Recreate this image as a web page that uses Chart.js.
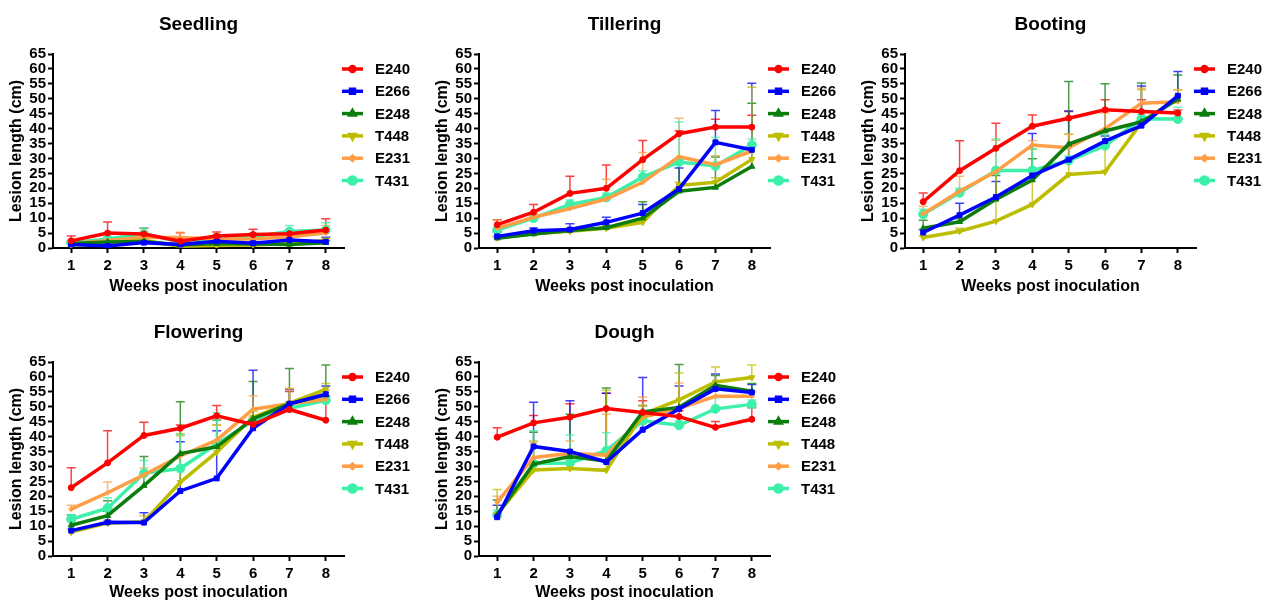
<!DOCTYPE html>
<html>
<head>
<meta charset="utf-8">
<script src="https://cdn.jsdelivr.net/npm/chart.js@4.4.1/dist/chart.umd.min.js"></script>
<style>
  body { margin: 0; background: #fff; width: 1266px; height: 602px; overflow: hidden; position: relative; }
  canvas { position: absolute; }
</style>
</head>
<body>
<canvas id="seedling" width="414" height="300" style="left:0px;top:0px"></canvas>
<canvas id="tillering" width="414" height="300" style="left:426px;top:0px"></canvas>
<canvas id="booting" width="414" height="300" style="left:852px;top:0px"></canvas>
<canvas id="flowering" width="414" height="294" style="left:0px;top:308px"></canvas>
<canvas id="dough" width="414" height="294" style="left:426px;top:308px"></canvas>
<script>
// weeks on x, strains in legend order
const weeks = ['1', '2', '3', '4', '5', '6', '7', '8'];
const strains = ['E240', 'E266', 'E248', 'T448', 'E231', 'T431'];
const yTicks = [0, 5, 10, 15, 20, 25, 30, 35, 40, 45, 50, 55, 60, 65];

// rows follow strains order; err = upper error bar length
const seedlingMean = [
    [2.4, 5.0, 4.7, 2.3, 4.0, 4.5, 4.8, 6.0],
    [1.2, 0.7, 1.8, 1.2, 2.3, 1.6, 2.7, 2.1],
    [1.5, 2.0, 2.2, 1.0, 1.5, 1.3, 1.2, 1.8],
    [1.0, 1.5, 2.5, 0.6, 0.8, 1.0, 1.5, 2.5],
    [1.5, 2.5, 3.5, 3.5, 3.0, 3.0, 3.8, 5.0],
    [1.8, 3.0, 4.8, 2.0, 3.5, 3.8, 5.5, 6.0]
];
const seedlingErr = [
    [1.6, 3.7, 2.0, 2.8, 1.4, 1.8, 1.2, 3.8],
    [0.5, 0.6, 0.6, 0.5, 0.6, 0.6, 0.8, 1.5],
    [0.4, 0.6, 0.5, 0.4, 0.4, 0.3, 0.4, 0.6],
    [0.4, 0.5, 0.6, 0.3, 0.4, 0.4, 0.5, 0.8],
    [0.7, 0.9, 1.0, 1.8, 0.8, 0.8, 1.0, 2.5],
    [0.8, 0.8, 2.0, 0.8, 1.0, 1.2, 2.0, 2.5]
];
const tilleringMean = [
    [7.8, 12.0, 18.3, 20.0, 29.6, 38.3, 40.5, 40.5],
    [3.9, 5.8, 6.2, 8.6, 11.7, 19.8, 35.4, 32.9],
    [3.3, 4.7, 5.9, 6.8, 10.0, 19.0, 20.3, 27.3],
    [3.4, 4.8, 5.6, 6.6, 8.6, 21.0, 22.0, 29.7],
    [6.6, 10.3, 13.2, 16.4, 22.0, 30.6, 27.9, 32.5],
    [6.0, 10.0, 14.6, 16.9, 23.8, 28.8, 27.5, 34.5]
];
const tilleringErr = [
    [1.7, 2.6, 5.7, 7.8, 6.4, 1.0, 2.6, 4.0],
    [1.5, 0.9, 1.9, 1.7, 2.9, 7.0, 10.7, 22.3],
    [0.5, 0.6, 0.7, 0.8, 5.5, 10.8, 10.2, 21.2],
    [0.5, 0.6, 0.6, 0.7, 1.0, 1.0, 1.5, 24.2],
    [2.8, 1.0, 1.5, 6.6, 10.0, 12.9, 3.0, 2.5],
    [1.0, 1.0, 1.5, 1.5, 2.0, 13.4, 9.5, 2.0]
];
const bootingMean = [
    [15.5, 25.9, 33.4, 40.8, 43.5, 46.3, 45.7, 45.2],
    [5.2, 11.0, 17.1, 24.3, 29.6, 35.8, 41.0, 51.0],
    [6.6, 8.8, 16.3, 22.8, 34.8, 39.2, 42.3, 49.8],
    [3.5, 5.6, 9.0, 14.6, 24.6, 25.5, 42.0, 50.5],
    [11.5, 19.0, 25.6, 34.5, 33.6, 40.0, 48.5, 49.0],
    [11.3, 18.5, 26.0, 26.0, 29.3, 34.3, 43.3, 43.2]
];
const bootingErr = [
    [2.9, 10.0, 8.4, 3.8, 2.2, 3.4, 4.0, 1.0],
    [1.0, 4.0, 5.2, 14.1, 16.3, 1.7, 13.3, 8.1],
    [2.7, 1.0, 8.0, 7.1, 21.0, 15.8, 13.0, 8.2],
    [0.5, 1.0, 17.0, 18.5, 13.5, 14.0, 11.0, 2.5],
    [2.5, 5.0, 10.5, 1.5, 4.5, 5.2, 5.0, 4.0],
    [1.7, 1.5, 10.5, 7.3, 1.5, 3.7, 1.5, 4.0]
];
const floweringMean = [
    [22.9, 31.2, 40.4, 42.8, 47.0, 44.1, 49.1, 45.5],
    [8.5, 11.3, 11.2, 21.8, 26.0, 42.8, 51.0, 54.2],
    [10.3, 13.5, 23.6, 34.3, 36.6, 46.0, 51.0, 54.0],
    [8.0, 11.0, 11.5, 24.7, 34.8, 46.5, 51.2, 55.8],
    [15.7, 21.2, 27.2, 33.5, 38.8, 49.2, 51.0, 52.5],
    [12.3, 16.0, 27.7, 29.3, 37.5, 45.3, 49.5, 52.2]
];
const floweringErr = [
    [6.7, 10.8, 4.4, 1.1, 3.4, 2.0, 6.0, 8.0],
    [4.0, 3.7, 3.3, 16.5, 16.0, 19.4, 4.8, 2.8],
    [3.5, 5.0, 9.7, 17.4, 9.0, 12.5, 11.8, 10.0],
    [1.0, 1.0, 2.0, 16.3, 9.2, 2.0, 5.0, 2.0],
    [1.3, 3.6, 2.3, 6.8, 5.0, 4.5, 5.0, 3.0],
    [1.5, 3.5, 4.3, 11.4, 10.5, 1.5, 2.0, 1.5]
];
const doughMean = [
    [39.8, 44.6, 46.5, 49.4, 48.1, 46.7, 43.1, 45.8],
    [13.0, 36.7, 35.0, 31.5, 42.3, 49.3, 56.0, 54.8],
    [13.8, 30.8, 33.3, 31.8, 48.3, 49.8, 57.2, 55.2],
    [14.0, 28.8, 29.3, 28.7, 47.5, 52.3, 58.3, 59.8],
    [18.0, 33.0, 34.3, 33.8, 46.5, 49.5, 53.5, 53.5],
    [13.8, 31.0, 31.2, 35.3, 45.3, 43.8, 49.3, 50.8]
];
const doughErr = [
    [3.2, 2.5, 4.5, 5.1, 3.9, 2.0, 2.0, 3.9],
    [4.0, 14.8, 17.0, 23.0, 17.5, 7.7, 5.0, 2.7],
    [5.0, 10.7, 14.2, 24.5, 2.0, 14.4, 3.3, 2.6],
    [8.3, 9.7, 3.0, 26.8, 3.0, 9.0, 5.0, 4.2],
    [2.0, 5.0, 4.2, 13.7, 6.8, 8.5, 2.0, 1.5],
    [1.5, 11.0, 9.3, 6.0, 2.7, 1.5, 3.7, 1.5]
];

const colors = ['#FF0000', '#0000FF', '#0C7C0C', '#BDBD00', '#FF9E45', '#3DF0AA'];
const markers = [
    {style: 'circle', r: 3, rot: 0},
    {style: 'rect', r: 3.5, rot: 0},
    {style: 'triangle', r: 3.5, rot: 0},
    {style: 'triangle', r: 3.5, rot: 180},
    {style: 'rectRot', r: 2.5, rot: 0},
    {style: 'circle', r: 4.5, rot: 0}
];

const FONT = "'Liberation Sans', Arial, sans-serif";

// upper error bars with caps, drawn under the lines
const errorBars = {
    id: 'errorBars',
    beforeDatasetsDraw(chart) {
        const ctx = chart.ctx;
        const x = chart.scales.x, y = chart.scales.y;
        ctx.save();
        chart.data.datasets.forEach((ds, i) => {
            ctx.strokeStyle = ds.borderColor;
            ctx.globalAlpha = 0.75;
            ctx.lineWidth = 1.5;
            ds.data.forEach((v, j) => {
                const px = x.getPixelForValue(j);
                const y0 = y.getPixelForValue(v);
                const y1 = y.getPixelForValue(v + ds.errs[j]);
                ctx.beginPath();
                ctx.moveTo(px, y0);
                ctx.lineTo(px, y1);
                ctx.moveTo(px - 4.5, y1);
                ctx.lineTo(px + 4.5, y1);
                ctx.stroke();
            });
        });
        ctx.restore();
    }
};

// legend: line with marker, then strain name
const sideLegend = {
    id: 'sideLegend',
    afterDraw(chart) {
        const ctx = chart.ctx;
        const area = chart.chartArea;
        ctx.save();
        chart.data.datasets.forEach((ds, i) => {
            const ly = area.top + 15 + i * 22.3;
            const lx = area.right - 2;
            ctx.strokeStyle = ds.borderColor;
            ctx.fillStyle = ds.borderColor;
            ctx.lineWidth = 3.5;
            ctx.beginPath();
            ctx.moveTo(lx, ly);
            ctx.lineTo(lx + 21, ly);
            ctx.stroke();
            Chart.helpers.drawPoint(ctx, {
                pointStyle: ds.pointStyle, radius: ds.pointRadius * 0.8,
                rotation: ds.pointRotation, borderWidth: 1
            }, lx + 10.5, ly);
            ctx.fillStyle = '#000';
            ctx.font = 'bold 15px ' + FONT;
            ctx.textBaseline = 'middle';
            ctx.textAlign = 'left';
            ctx.fillText(strains[i], lx + 33, ly + 1);
        });
        ctx.restore();
    }
};

function makeChart(id, title, means, errs) {
    const canvas = document.getElementById(id);
    const h = canvas.height;
    const datasets = strains.map((s, i) => ({
        label: s,
        data: means[i],
        errs: errs[i],
        borderColor: colors[i],
        backgroundColor: colors[i],
        borderWidth: 3.5,
        pointStyle: markers[i].style,
        pointRadius: markers[i].r,
        pointRotation: markers[i].rot,
        pointBorderWidth: 1,
        tension: 0
    }));
    return new Chart(canvas.getContext('2d'), {
        type: 'line',
        data: {labels: weeks, datasets: datasets},
        plugins: [errorBars, sideLegend],
        options: {
            responsive: false,
            animation: false,
            devicePixelRatio: 1,
            layout: {padding: {left: 0, right: 70, top: 0, bottom: 0}},
            plugins: {
                legend: {display: false},
                tooltip: {enabled: false},
                title: {
                    display: true,
                    text: title,
                    fullSize: false,
                    color: '#000',
                    font: {family: FONT, size: 19, weight: 'bold'},
                    padding: {top: 13.6, bottom: 17.6}
                }
            },
            scales: {
                x: {
                    type: 'category',
                    offset: true,
                    afterFit: s => { s.height = h - 248; },
                    grid: {offset: false, drawOnChartArea: false, drawTicks: true,
                        tickLength: 5, tickColor: '#000', tickWidth: 2},
                    border: {color: '#000', width: 2},
                    ticks: {color: '#000', padding: 4, maxRotation: 0, autoSkip: false,
                        font: {family: FONT, size: 15, weight: 'bold'}},
                    title: {display: true, text: 'Weeks post inoculation', color: '#000',
                        font: {family: FONT, size: 16, weight: 'bold'},
                        padding: {top: 0, bottom: h > 296 ? 4 : 0}}
                },
                y: {
                    min: 0,
                    max: 65,
                    afterFit: s => { s.width = 53; },
                    afterBuildTicks: s => { s.ticks = yTicks.map(v => ({value: v})); },
                    grid: {drawOnChartArea: false, drawTicks: true,
                        tickLength: 5, tickColor: '#000', tickWidth: 2},
                    border: {color: '#000', width: 2},
                    ticks: {color: '#000', padding: 2, autoSkip: false,
                        font: {family: FONT, size: 15, weight: 'bold'}},
                    title: {display: true, text: 'Lesion length (cm)', color: '#000',
                        font: {family: FONT, size: 16, weight: 'bold'},
                        padding: {top: 7, bottom: 0}}
                }
            }
        }
    });
}

makeChart('seedling', 'Seedling', seedlingMean, seedlingErr);
makeChart('tillering', 'Tillering', tilleringMean, tilleringErr);
makeChart('booting', 'Booting', bootingMean, bootingErr);
makeChart('flowering', 'Flowering', floweringMean, floweringErr);
makeChart('dough', 'Dough', doughMean, doughErr);
</script>
</body>
</html>
